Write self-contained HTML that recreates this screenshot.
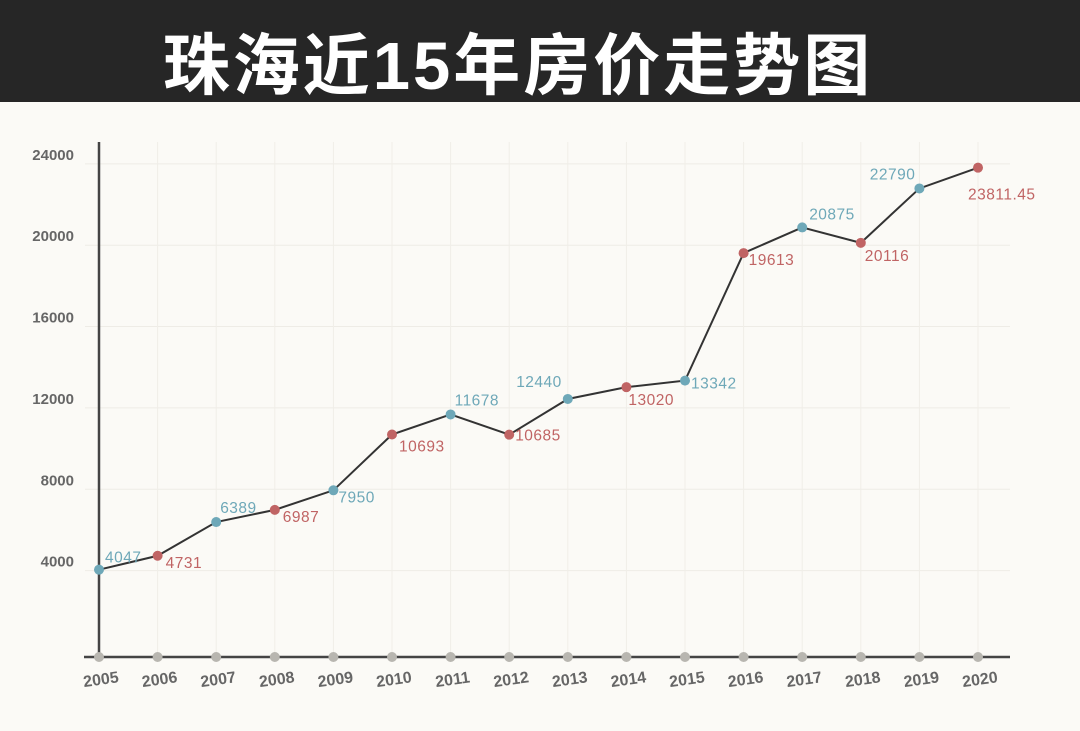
<!DOCTYPE html>
<html><head><meta charset="utf-8"><style>
body{margin:0;width:1080px;height:731px;background:#fbfaf6;overflow:hidden;font-family:"Liberation Sans","Noto Sans CJK SC",sans-serif}
#bar{position:absolute;left:0;top:0;width:1080px;height:102px;background:#262626}
#title{position:absolute;left:0;top:12px;width:1036px;text-align:center;color:#fff;font-size:67px;font-weight:bold;letter-spacing:3px;font-family:"Liberation Sans","Noto Sans CJK SC",sans-serif}
svg{position:absolute;left:0;top:0}
</style></head><body>
<div id="bar"></div>
<div id="title">珠海近15年房价走势图</div>
<svg id="chart" width="1080" height="731"></svg>
<script>
const years=["2005","2006","2007","2008","2009","2010","2011","2012","2013","2014","2015","2016","2017","2018","2019","2020"];
const prices=[4047,4731,6389,6987,7950,10693,11678,10685,12440,13020,13342,19613,20875,20116,22790,23811.45];
const priceLabels=["4047","4731","6389","6987","7950","10693","11678","10685","12440","13020","13342","19613","20875","20116","22790","23811.45"];
const yTicks=[4000,8000,12000,16000,20000,24000];
const NS="http://www.w3.org/2000/svg";
const svg=document.getElementById('chart');
const x=i=>99+i*58.6;
const y=v=>652-v*0.02034;
function mk(t,a){const e=document.createElementNS(NS,t);for(const k in a)e.setAttribute(k,a[k]);svg.appendChild(e);return e;}
yTicks.forEach(v=>{
 const g=mk('line',{x1:85,x2:1010,y1:y(v),y2:y(v),stroke:'#eeece6','stroke-width':1});
 
 
 const t=mk('text',{x:74,y:y(v)-4,'text-anchor':'end','font-size':15,'font-weight':'bold',fill:'#666'});
 t.textContent=v;
 
 
});
years.forEach((yr,i)=>{
 const g=mk('line',{x1:x(i),x2:x(i),y1:142,y2:657,stroke:'#f0eee8','stroke-width':1});
 
 
});
const ya=mk('line',{x1:99,x2:99,y1:142,y2:657,stroke:'#444','stroke-width':2.5});


const xa=mk('line',{x1:84,x2:1010,y1:657,y2:657,stroke:'#444','stroke-width':2.5});


years.forEach((yr,i)=>{
 const d=mk('circle',{cx:x(i),cy:657,r:5,fill:'#b8b6b0'});
 
 
 const t=mk('text',{x:x(i)+2,y:685,'text-anchor':'middle','font-size':16,'font-weight':'bold',fill:'#666',transform:`rotate(-8 ${x(i)} 680)`});
 t.textContent=yr;
 
 
});
const line=mk('polyline',{points:prices.map((v,i)=>x(i)+','+y(v)).join(' '),fill:'none',stroke:'#333','stroke-width':2});


const offs=[[6,-7,'start'],[8,12,'start'],[4,-9,'start'],[8,12,'start'],[5,12,'start'],[7,17,'start'],[4,-9,'start'],[6,6,'start'],[-6,-12,'end'],[2,18,'start'],[6,8,'start'],[5,12,'start'],[7,-8,'start'],[4,18,'start'],[-4,-9,'end'],[-10,32,'start']];
prices.forEach((v,i)=>{
 const col=i%2?'#c06464':'#6ea8b8';
 const c=mk('circle',{cx:x(i),cy:y(v),r:5,fill:col});
 
 
 const o=offs[i];
 const t=mk('text',{x:x(i)+o[0],y:y(v)+o[1],'text-anchor':o[2],'font-size':15.5,fill:col,'letter-spacing':'0.5'});
 t.textContent=priceLabels[i];
 
 
});
</script>
</body></html>
